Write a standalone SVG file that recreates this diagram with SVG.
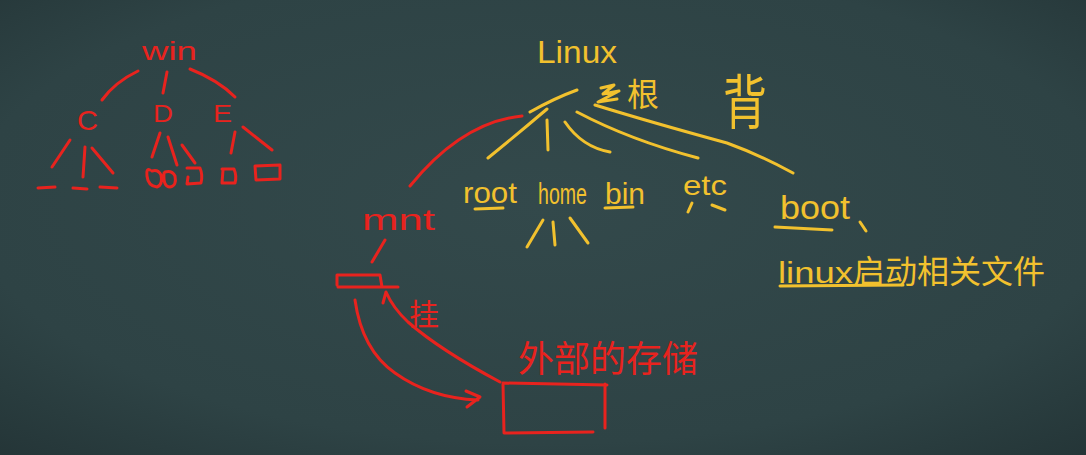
<svg xmlns="http://www.w3.org/2000/svg" width="1086" height="455" viewBox="0 0 1086 455">
<defs>
<radialGradient id="bg" cx="50%" cy="45%" r="75%">
<stop offset="0" stop-color="#33494b"/>
<stop offset="0.7" stop-color="#2e4345"/>
<stop offset="1" stop-color="#243537"/>
</radialGradient>
</defs>
<style>
.r{fill:none;stroke:#e8231e;stroke-width:3;stroke-linecap:round;stroke-linejoin:round}
.y{fill:none;stroke:#f2c12e;stroke-width:3;stroke-linecap:round;stroke-linejoin:round}
.tr{fill:#e8231e;font-family:"Liberation Sans","Noto Sans CJK SC",sans-serif}
.ty{fill:#f2c12e;font-family:"Liberation Sans","Noto Sans CJK SC",sans-serif}
.cjk{font-family:"Noto Sans CJK SC",sans-serif}
</style>
<rect width="1086" height="455" fill="url(#bg)"/>

<!-- Windows tree -->
<g id="win"><text class="tr" x="142" y="60" font-size="26" textLength="55" lengthAdjust="spacingAndGlyphs">win</text></g>
<g id="C"><text class="tr" x="77" y="130" font-size="28" textLength="21" lengthAdjust="spacingAndGlyphs">C</text></g>
<g id="D"><text class="tr" x="153" y="122" font-size="24" textLength="20" lengthAdjust="spacingAndGlyphs">D</text></g>
<g id="E"><text class="tr" x="213" y="122" font-size="24" textLength="19" lengthAdjust="spacingAndGlyphs">E</text></g>
<g id="win-leaves">
<path class="r" d="M38,188 L55,187 M73,188 L87,189 M100,187 L117,188"/>
<path class="r" d="M150,170 Q146,168 147,176 Q148,186 157,187 Q163,185 161,175 Q158,169 152,171 M164,173 Q163,187 170,187 Q177,186 175,176 Q172,170 165,172"/>
<path class="r" d="M187,168 L200,168 Q203,175 201,183 L187,184 L188,177"/>
<path class="r" d="M222,169 L234,169 Q237,176 235,183 L222,183 L223,170"/>
<path class="r" d="M255,166 L280,165 L280,179 L256,180 Z"/>
</g>

<!-- Linux tree -->
<g id="linux"><text class="ty" x="537" y="63" font-size="32" textLength="80" lengthAdjust="spacingAndGlyphs">Linux</text></g>
<g id="gen">
<path class="y" d="M601,88 L614,85 L603,94 L619,91 L598,102 L617,99"/>
<text class="ty cjk" x="627" y="106" font-size="32">根</text>
</g>
<g id="bei"><text class="ty cjk" transform="translate(723,124) scale(1,1.35)" font-size="44">背</text></g>
<g id="root"><text class="ty" x="463" y="203" font-size="30" textLength="54" lengthAdjust="spacingAndGlyphs">root</text><path class="y" d="M475,209 L503,208"/></g>
<g id="home"><text class="ty" transform="translate(538,204) scale(1,1.45)" font-size="20" textLength="49" lengthAdjust="spacingAndGlyphs">home</text></g>
<g id="bin"><text class="ty" x="605" y="204" font-size="30" textLength="40" lengthAdjust="spacingAndGlyphs">bin</text><path class="y" d="M605,208 L633,207"/></g>
<g id="etc"><text class="ty" x="683" y="195" font-size="28" textLength="44" lengthAdjust="spacingAndGlyphs">etc</text></g>
<g id="boot">
<text class="ty" x="780" y="219" font-size="34" textLength="70" lengthAdjust="spacingAndGlyphs">boot</text>
<path class="y" d="M860,222 L866,231 M775,227 L832,230"/>
<text class="ty" x="778" y="283"><tspan font-size="30" textLength="75" lengthAdjust="spacingAndGlyphs">linux</tspan><tspan class="cjk" x="853" font-size="32">启动相关文件</tspan></text>
<path class="y" d="M780,286 L903,285"/>
</g>

<!-- mount part -->
<g id="mnt"><text class="tr" x="362" y="230" font-size="30" textLength="73" lengthAdjust="spacingAndGlyphs">mnt</text></g>
<g id="slot"><path class="r" d="M337,285 L337,275 L380,275 L382,287 M338,287 L398,287"/></g>
<g id="gua"><text class="tr cjk" x="409" y="325" font-size="30">挂</text></g>
<g id="device">
<path class="r" d="M503,383 L607,385 M605,384 L605,428 M505,433 L593,432 M503,384 L504,433"/>
<text class="tr cjk" x="518" y="372" font-size="36" textLength="180" lengthAdjust="spacingAndGlyphs">外部的存储</text>
</g>

<g id="connectors">
<path class="r" d="M138,71 Q115,82 102,100 M167,72 L163,93 M190,69 Q218,80 235,97"/>
<path class="r" d="M70,140 L52,167 M85,147 L83,177 M92,148 L113,173"/>
<path class="r" d="M160,133 L152,157 M168,137 L177,165 M182,145 L195,163"/>
<path class="r" d="M235,132 L231,153 M243,127 L272,150"/>
<path class="y" d="M530,112 Q555,98 577,90 M547,109 Q520,132 488,158 M547,120 L548,150 M565,122 Q582,147 610,152 M577,112 Q630,140 698,158 M595,105 Q650,122 727,143 Q760,155 793,173"/>
<path class="y" d="M543,220 L527,247 M553,222 L555,245 M570,218 L588,243"/>
<path class="y" d="M692,203 L688,212 M712,205 L725,210"/>
<path class="r" d="M522,116 Q462,122 410,186"/>
<path class="r" d="M385,240 L372,262"/>
<path class="r" d="M500,382 Q440,350 408,322 Q393,308 386,292 M386,292 L383,303"/>
<path class="r" d="M355,300 Q362,350 395,373 Q430,398 478,400 M466,391 L480,397 L467,407"/>
</g>
</svg>
